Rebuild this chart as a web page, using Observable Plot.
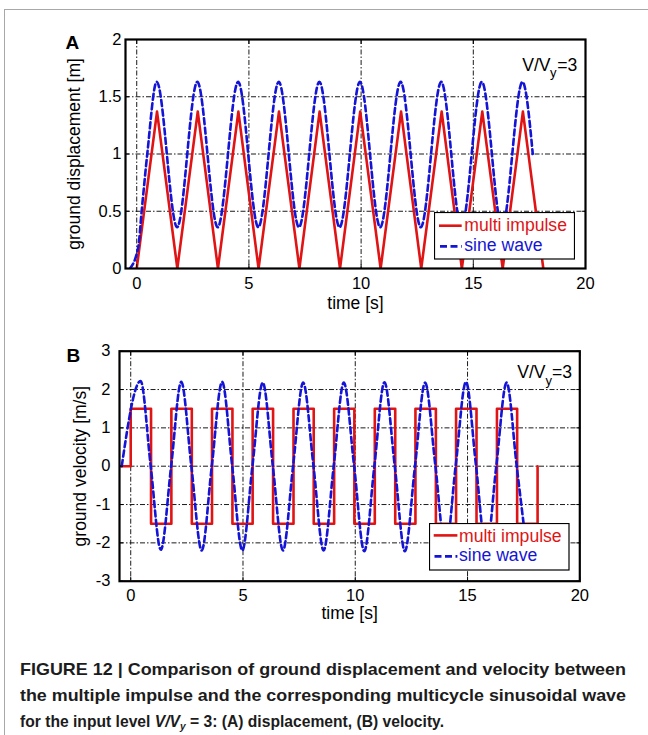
<!DOCTYPE html>
<html>
<head>
<meta charset="utf-8">
<script src="https://cdn.jsdelivr.net/npm/d3@7"></script>
<script src="https://cdn.jsdelivr.net/npm/@observablehq/plot@0.6"></script>
<style>
body{margin:0;background:#fff;}
#fig{position:relative;width:648px;height:735px;background:#fff;overflow:hidden;font-family:"Liberation Sans",Arial,Helvetica,sans-serif;}
#border{position:absolute;left:4px;top:9px;width:700px;height:800px;border-left:1.5px solid #a8a8a8;border-top:1.5px solid #a8a8a8;}
.panel{position:absolute;left:0;}
.legend{position:absolute;}
#caption{position:absolute;left:20px;top:657px;font-weight:bold;font-size:17px;line-height:26px;color:#1c1c1c;}
#caption .ln{white-space:nowrap;transform-origin:0 50%;width:max-content;}
#caption sub{font-size:11px;line-height:0;vertical-align:-3px;}
</style>
</head>
<body>
<div id="fig">
  <div id="border"></div>
  <div id="pa" class="panel" style="top:0px"></div>
  <div id="pb" class="panel" style="top:310px"></div>
  <div id="caption">
    <div class="ln" data-w="606">FIGURE 12 | Comparison of ground displacement and velocity between</div>
    <div class="ln" data-w="606">the multiple impulse and the corresponding multicycle sinusoidal wave</div>
    <div class="ln" data-w="424">for the input level <i>V/V<sub>y</sub></i> = 3: (A) displacement, (B) velocity.</div>
  </div>
</div>
<script>
// ---------- data ----------
const seriesNames = ["multi impulse", "sine wave"];
const xTicks = [0, 5, 10, 15, 20];
const xGrid = [0, 5, 10, 15];
const yTicksA = [0, 0.5, 1, 1.5, 2];
const yGridA = [0.5, 1, 1.5];
const yTicksB = [-3, -2, -1, 0, 1, 2, 3];
const yGridB = [-2, -1, 0, 1, 2];

// (A) displacement, multi impulse (triangle wave corners)
const dispImpT = [0, 0.905, 1.81, 2.72, 3.62, 4.53, 5.43, 6.34, 7.25, 8.15, 9.06, 9.96, 10.87, 11.78, 12.68, 13.59, 14.49, 15.4, 16.31, 17.21, 18.12];
const dispImpV = [0, 1.37, 0, 1.37, 0, 1.37, 0, 1.37, 0, 1.37, 0, 1.37, 0, 1.37, 0, 1.37, 0, 1.37, 0, 1.37, 0];

// (A) displacement, sine wave (start, peaks and troughs)
const dispSineT = [-0.3, 0.07, 0.22, 0.47, 0.89, 1.8, 2.7, 3.61, 4.52, 5.42, 6.33, 7.23, 8.14, 9.04, 9.95, 10.85, 11.76, 12.66, 13.57, 14.47, 15.38, 16.28, 17.19, 17.65];
const dispSineV = [0, 0.19, 0.5, 1.0, 1.63, 0.36, 1.63, 0.36, 1.63, 0.36, 1.63, 0.36, 1.63, 0.36, 1.63, 0.36, 1.63, 0.36, 1.63, 0.36, 1.63, 0.36, 1.63, 1.0];

// (B) velocity, multi impulse (step changes)
const velImpT = [-0.5, 0, 0.905, 1.81, 2.72, 3.62, 4.53, 5.43, 6.34, 7.25, 8.15, 9.06, 9.96, 10.87, 11.78, 12.68, 13.59, 14.49, 15.4, 16.31, 17.21, 18.12];
const velImpV = [0, 1.5, -1.5, 1.5, -1.5, 1.5, -1.5, 1.5, -1.5, 1.5, -1.5, 1.5, -1.5, 1.5, -1.5, 1.5, -1.5, 1.5, -1.5, 1.5, -1.5, 0];

// (B) velocity, sine wave (zero crossings, peaks and troughs)
const velSineT = [-0.4, 0.44, 0.89, 1.34, 1.8, 2.25, 2.7, 3.16, 3.61, 4.07, 4.52, 4.97, 5.42, 5.88, 6.33, 6.78, 7.23, 7.68, 8.14, 8.59, 9.04, 9.49, 9.95, 10.4, 10.85, 11.3, 11.76, 12.21, 12.66, 13.11, 13.57, 14.02, 14.47, 14.93, 15.38, 15.83, 16.28, 16.74, 17.19, 17.64];
const velSineV = [0, 2.22, 0, -2.18, 0, 2.2, 0, -2.2, 0, 2.2, 0, -2.2, 0, 2.18, 0, -2.2, 0, 2.18, 0, -2.2, 0, 2.18, 0, -2.22, 0, 2.19, 0, -2.22, 0, 2.18, 0, -2.2, 0, 2.2, 0, -2.2, 0, 2.18, 0, -2.2];

// ---------- styling ----------
const RED = "#e01414", BLUE = "#1414d6";
const FONT = '"Liberation Sans", Arial, Helvetica, sans-serif';
const gridStyle = {stroke: "#000", strokeOpacity: 1, strokeWidth: 0.9, strokeDasharray: "5,2,1.5,2"};
const zip = (T, V) => T.map((t, i) => ({t, v: V[i]}));
const fmt = d => String(d);

function vvLabel(dy1, dy2, dxV, dxY, dx3) {
  return [
    Plot.text(["V/V"], {frameAnchor: "top-right", dx: dxV, dy: dy1, textAnchor: "end", lineAnchor: "middle", fontSize: 17.6}),
    Plot.text(["y"], {frameAnchor: "top-right", dx: dxY, dy: dy2, textAnchor: "end", lineAnchor: "middle", fontSize: 13}),
    Plot.text(["=3"], {frameAnchor: "top-right", dx: dx3, dy: dy1, textAnchor: "end", lineAnchor: "middle", fontSize: 17.6})
  ];
}

// ---------- panel A ----------
const plotA = Plot.plot({
  width: 648, height: 310,
  marginLeft: 125, marginRight: 63, marginTop: 39, marginBottom: 42,
  style: {fontFamily: FONT, fontSize: "16.5px", color: "#000", background: "transparent", overflow: "visible"},
  x: {domain: [-0.5, 20]},
  y: {domain: [0, 2]},
  marks: [
    Plot.gridX(xGrid, gridStyle),
    Plot.gridY(yGridA, gridStyle),
    Plot.line(zip(dispImpT, dispImpV), {x: "t", y: "v", stroke: RED, strokeWidth: 2.6, clip: true}),
    Plot.line(zip(dispSineT, dispSineV), {x: "t", y: "v", stroke: BLUE, strokeWidth: 2.6, strokeDasharray: "6,3.5", curve: "monotone-x", clip: true}),
    Plot.axisX(xTicks, {tickSize: -4, tickPadding: 13, tickFormat: fmt, label: null}),
    Plot.axisX(xTicks, {anchor: "top", tickSize: -4, tickFormat: () => "", label: null}),
    Plot.axisY(yTicksA, {tickSize: -4, tickPadding: 8, tickFormat: fmt, label: null}),
    Plot.axisY(yTicksA, {anchor: "right", tickSize: -4, tickFormat: () => "", label: null}),
    Plot.frame({stroke: "#000", strokeWidth: 2.2}),
    Plot.text(["ground displacement [m]"], {frameAnchor: "left", dx: -51, rotate: -90, textAnchor: "middle", lineAnchor: "middle", fontSize: 17.5}),
    Plot.text(["time [s]"], {frameAnchor: "bottom", dy: 35, textAnchor: "middle", lineAnchor: "middle", fontSize: 17.5}),
    Plot.text(["A"], {frameAnchor: "top-left", dx: -60, dy: 3, textAnchor: "start", lineAnchor: "middle", fontWeight: "bold", fontSize: 19}),
    ...vvLabel(25.4, 33.3, -35, -29, -8.2)
  ]
});
document.getElementById("pa").appendChild(plotA);

// ---------- panel B ----------
const plotB = Plot.plot({
  width: 648, height: 320,
  marginLeft: 119, marginRight: 68.7, marginTop: 40.7, marginBottom: 49.3,
  style: {fontFamily: FONT, fontSize: "16.5px", color: "#000", background: "transparent", overflow: "visible"},
  x: {domain: [-0.5, 20]},
  y: {domain: [-3, 3]},
  marks: [
    Plot.gridX(xGrid, gridStyle),
    Plot.gridY(yGridB, gridStyle),
    Plot.line(zip(velImpT, velImpV), {x: "t", y: "v", stroke: RED, strokeWidth: 2.6, curve: "step-after", clip: true}),
    Plot.line(zip(velSineT, velSineV), {x: "t", y: "v", stroke: BLUE, strokeWidth: 2.6, strokeDasharray: "6,3.5", curve: "monotone-x", clip: true}),
    Plot.axisX(xTicks, {tickSize: -4, tickPadding: 12, tickFormat: fmt, label: null}),
    Plot.axisX(xTicks, {anchor: "top", tickSize: -4, tickFormat: () => "", label: null}),
    Plot.axisY(yTicksB, {tickSize: -4, tickPadding: 13, tickFormat: fmt, label: null}),
    Plot.axisY(yTicksB, {anchor: "right", tickSize: -4, tickFormat: () => "", label: null}),
    Plot.frame({stroke: "#000", strokeWidth: 2.2}),
    Plot.text(["ground velocity [m/s]"], {frameAnchor: "left", dx: -39, rotate: -90, textAnchor: "middle", lineAnchor: "middle", fontSize: 17.5}),
    Plot.text(["time [s]"], {frameAnchor: "bottom", dy: 32.3, textAnchor: "middle", lineAnchor: "middle", fontSize: 17.5}),
    Plot.text(["B"], {frameAnchor: "top-left", dx: -53, dy: 4.3, textAnchor: "start", lineAnchor: "middle", fontWeight: "bold", fontSize: 19}),
    ...vvLabel(21.4, 30.1, -34.3, -27.8, -7.8)
  ]
});
document.getElementById("pb").appendChild(plotB);

// ---------- legends ----------
function legend(left, top, w, h, rows) {
  const ns = "http://www.w3.org/2000/svg";
  const div = document.createElement("div");
  div.className = "legend";
  div.style.left = left + "px"; div.style.top = top + "px";
  const svg = document.createElementNS(ns, "svg");
  svg.setAttribute("width", w); svg.setAttribute("height", h);
  const rect = document.createElementNS(ns, "rect");
  rect.setAttribute("x", 0.5); rect.setAttribute("y", 0.5);
  rect.setAttribute("width", w - 1); rect.setAttribute("height", h - 1);
  rect.setAttribute("fill", "#fff"); rect.setAttribute("stroke", "#000"); rect.setAttribute("stroke-width", 1.2);
  svg.appendChild(rect);
  rows.forEach(r => {
    const ln = document.createElementNS(ns, "line");
    ln.setAttribute("x1", r.x1); ln.setAttribute("x2", r.x2);
    ln.setAttribute("y1", r.ly); ln.setAttribute("y2", r.ly);
    ln.setAttribute("stroke", r.color); ln.setAttribute("stroke-width", 2.6);
    if (r.dash) ln.setAttribute("stroke-dasharray", r.dash);
    svg.appendChild(ln);
    const tx = document.createElementNS(ns, "text");
    tx.setAttribute("x", r.tx); tx.setAttribute("y", r.ty);
    tx.setAttribute("fill", r.color);
    tx.setAttribute("font-family", FONT); tx.setAttribute("font-size", "17.6px");
    tx.textContent = r.label;
    svg.appendChild(tx);
  });
  div.appendChild(svg);
  document.getElementById("fig").appendChild(div);
}
legend(434, 212.3, 141, 47.5, [
  {label: seriesNames[0], color: RED, x1: 5, x2: 27.7, ly: 13.7, tx: 30.3, ty: 19.4},
  {label: seriesNames[1], color: BLUE, dash: "7,3.5", x1: 6, x2: 27.7, ly: 34.4, tx: 30.3, ty: 38.7}
]);
legend(429.3, 523.3, 140.5, 47.5, [
  {label: seriesNames[0], color: RED, x1: 4.7, x2: 28.4, ly: 12.4, tx: 30, ty: 19.4},
  {label: seriesNames[1], color: BLUE, dash: "7,3.5", x1: 5.5, x2: 28.4, ly: 33.4, tx: 30, ty: 38.4}
]);

// ---------- caption fitting ----------
document.querySelectorAll("#caption .ln").forEach(el => {
  const w = el.getBoundingClientRect().width;
  const target = +el.dataset.w;
  if (w > 0) el.style.transform = `scaleX(${target / w})`;
});
</script>
</body>
</html>
